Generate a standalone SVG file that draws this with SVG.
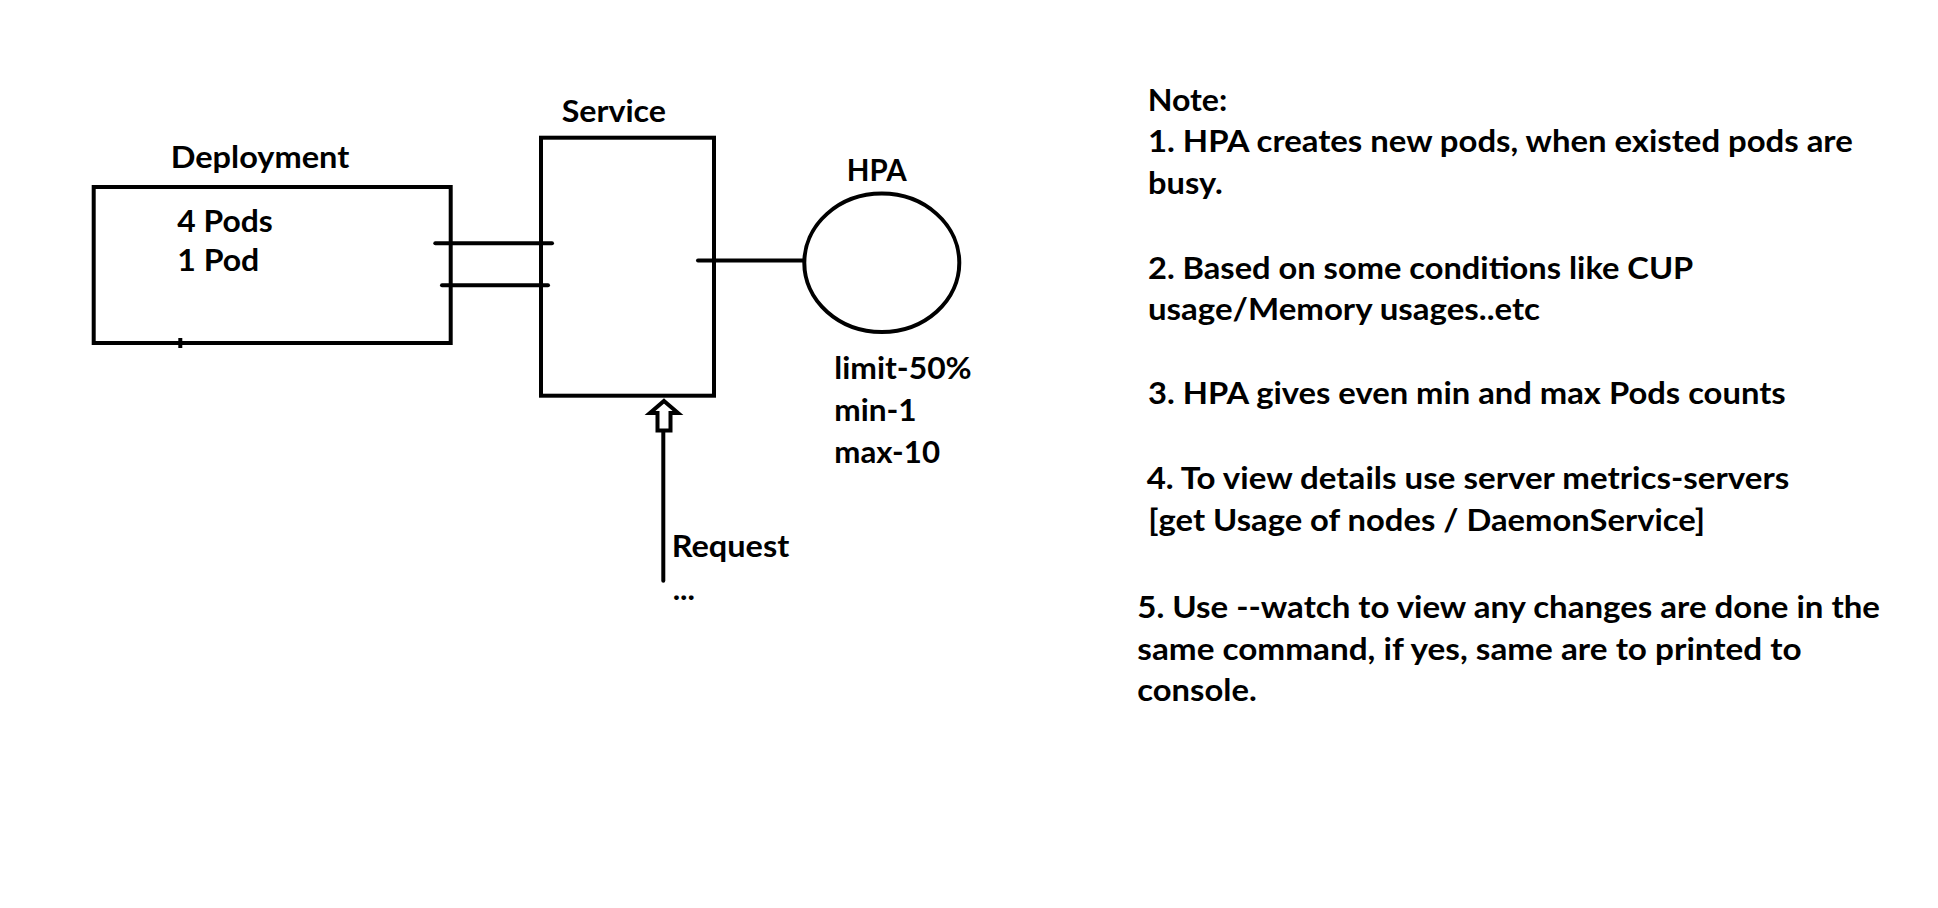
<svg xmlns="http://www.w3.org/2000/svg" width="1938" height="908" viewBox="0 0 1938 908">
<style>
.t{font-family:Lato,"Open Sans","Liberation Sans",sans-serif;font-weight:bold;font-size:30.5px;fill:#000}
.s{fill:none;stroke:#000;stroke-width:4}
.c{fill:none;stroke:#000;stroke-width:4;stroke-linecap:round}
</style>
<rect width="1938" height="908" fill="#fff"/>
<g id="deployment">
<rect class="s" x="93.7" y="187" width="357" height="156"/>
<line class="s" x1="180.3" y1="338" x2="180.3" y2="348"/>
<text class="t" x="170.7" y="167.7" textLength="178.6" lengthAdjust="spacingAndGlyphs">Deployment</text>
<text class="t" x="177.3" y="232.3" textLength="95.4" lengthAdjust="spacingAndGlyphs">4 Pods</text>
<text class="t" x="177.3" y="270.7" textLength="82" lengthAdjust="spacingAndGlyphs">1 Pod</text>
</g>
<g id="service">
<rect class="s" x="541" y="137.7" width="173" height="258"/>
<text class="t" x="561.7" y="122.3" textLength="104.3" lengthAdjust="spacingAndGlyphs">Service</text>
</g>
<g id="hpa">
<ellipse class="s" cx="881.8" cy="262.8" rx="77.5" ry="69.2"/>
<text class="t" x="846.7" y="181" textLength="60" lengthAdjust="spacingAndGlyphs">HPA</text>
<text class="t" x="834.3" y="379.3" textLength="137.4" lengthAdjust="spacingAndGlyphs">limit-50%</text>
<text class="t" x="834.3" y="421" textLength="82.4" lengthAdjust="spacingAndGlyphs">min-1</text>
<text class="t" x="834.3" y="462.7" textLength="105.7" lengthAdjust="spacingAndGlyphs">max-10</text>
</g>
<g id="request">
<text class="t" x="671.7" y="556.7" textLength="117.6" lengthAdjust="spacingAndGlyphs">Request</text>
<text class="t" x="672.7" y="600" textLength="22.3" lengthAdjust="spacingAndGlyphs">...</text>
</g>
<g id="connectors">
<line class="c" x1="435.3" y1="243.3" x2="552" y2="243.3"/>
<line class="c" x1="442" y1="285.3" x2="548" y2="285.3"/>
<line class="c" x1="698" y1="260.5" x2="803" y2="260.5"/>
<line class="c" x1="663.3" y1="431" x2="663.3" y2="580.7"/>
<polygon class="s" stroke-linejoin="miter" points="664,401 678,413 670.5,413 670.5,430.5 657.5,430.5 657.5,413 650,413"/>
</g>
<g id="notes">
<text class="t" x="1147.7" y="111" textLength="79.6" lengthAdjust="spacingAndGlyphs">Note:</text>
<text class="t" x="1148" y="152.3" textLength="704.7" lengthAdjust="spacingAndGlyphs">1. HPA creates new pods, when existed pods are</text>
<text class="t" x="1148" y="194" textLength="74.7" lengthAdjust="spacingAndGlyphs">busy.</text>
<text class="t" x="1148" y="279" textLength="545.3" lengthAdjust="spacingAndGlyphs">2. Based on some conditions like CUP</text>
<text class="t" x="1148" y="320" textLength="392" lengthAdjust="spacingAndGlyphs">usage/Memory usages..etc</text>
<text class="t" x="1148" y="404" textLength="637.7" lengthAdjust="spacingAndGlyphs">3. HPA gives even min and max Pods counts</text>
<text class="t" x="1146.7" y="489" textLength="642.6" lengthAdjust="spacingAndGlyphs">4. To view details use server metrics-servers</text>
<text class="t" x="1148.3" y="530.7" textLength="556.7" lengthAdjust="spacingAndGlyphs">[get Usage of nodes / DaemonService]</text>
<text class="t" x="1137.3" y="618.3" textLength="742.7" lengthAdjust="spacingAndGlyphs">5. Use --watch to view any changes are done in the</text>
<text class="t" x="1137.3" y="660" textLength="664.4" lengthAdjust="spacingAndGlyphs">same command, if yes, same are to printed to</text>
<text class="t" x="1137.3" y="700.7" textLength="119.4" lengthAdjust="spacingAndGlyphs">console.</text>
</g>
</svg>
